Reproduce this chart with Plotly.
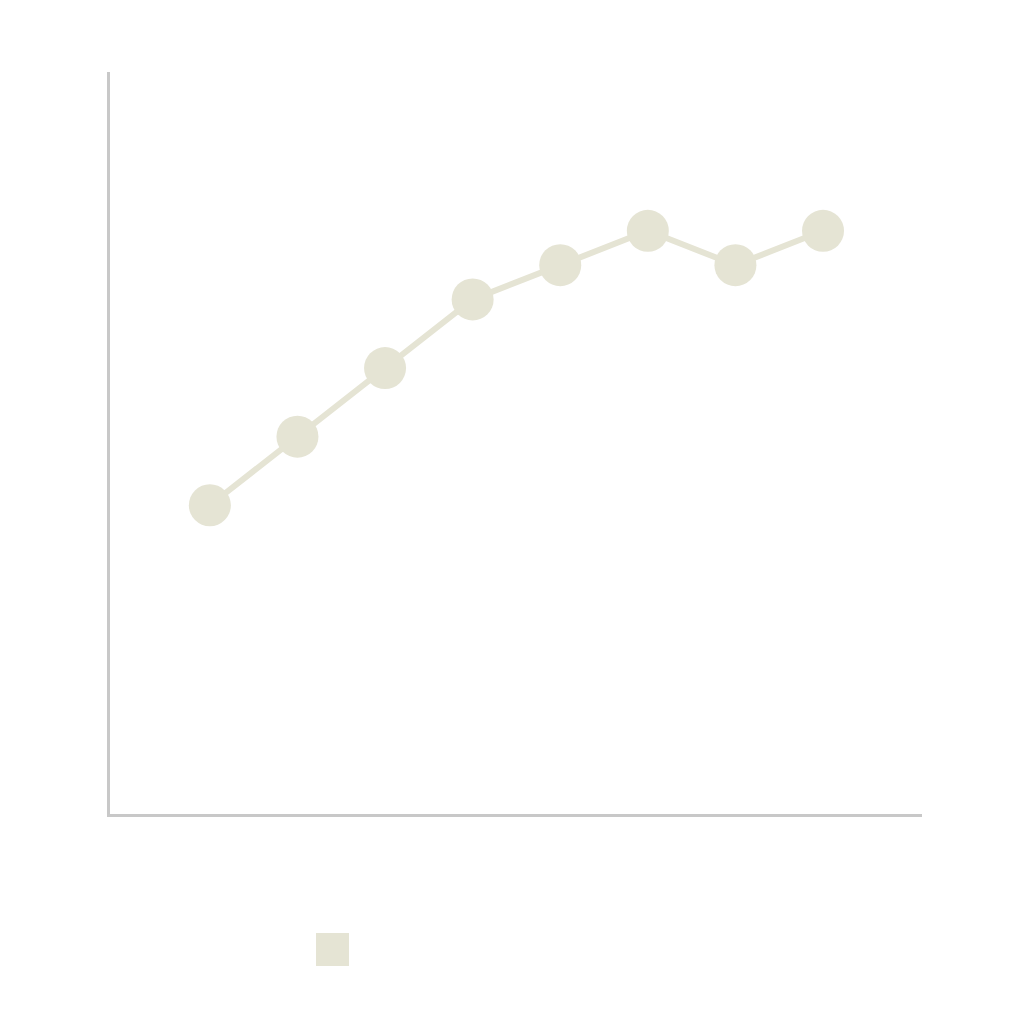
import plotly.graph_objects as go

categories = [0, 1, 2, 3, 4, 5, 6, 7]
values = [9, 11, 13, 15, 16, 17, 16, 17]
series_name = ""

color = "#e5e4d4"
axis_color = "#c8c8c8"

fig = go.Figure()
fig.add_trace(go.Scatter(
    x=categories, y=values, mode="lines+markers", name=series_name,
    line=dict(color=color, width=6),
    marker=dict(color=color, size=42),
    showlegend=False,
))

fig.update_layout(
    width=1024, height=1024,
    margin=dict(l=102, r=110, t=64, b=218),
    paper_bgcolor="white", plot_bgcolor="white",
    xaxis=dict(range=[-1.14, 8.13], showgrid=False, zeroline=False, showticklabels=False,
               ticks="", showline=True, linecolor=axis_color, linewidth=3),
    yaxis=dict(range=[0, 21.63], showgrid=False, zeroline=False, showticklabels=False,
               ticks="", showline=True, linecolor=axis_color, linewidth=3),
    shapes=[dict(type="rect", xref="paper", yref="paper",
                 x0=(316 - 110) / 812, x1=(349 - 110) / 812,
                 y0=(814 - 966) / 742, y1=(814 - 933) / 742,
                 fillcolor=color, line=dict(width=0))],
)

fig.write_html("out.html")
